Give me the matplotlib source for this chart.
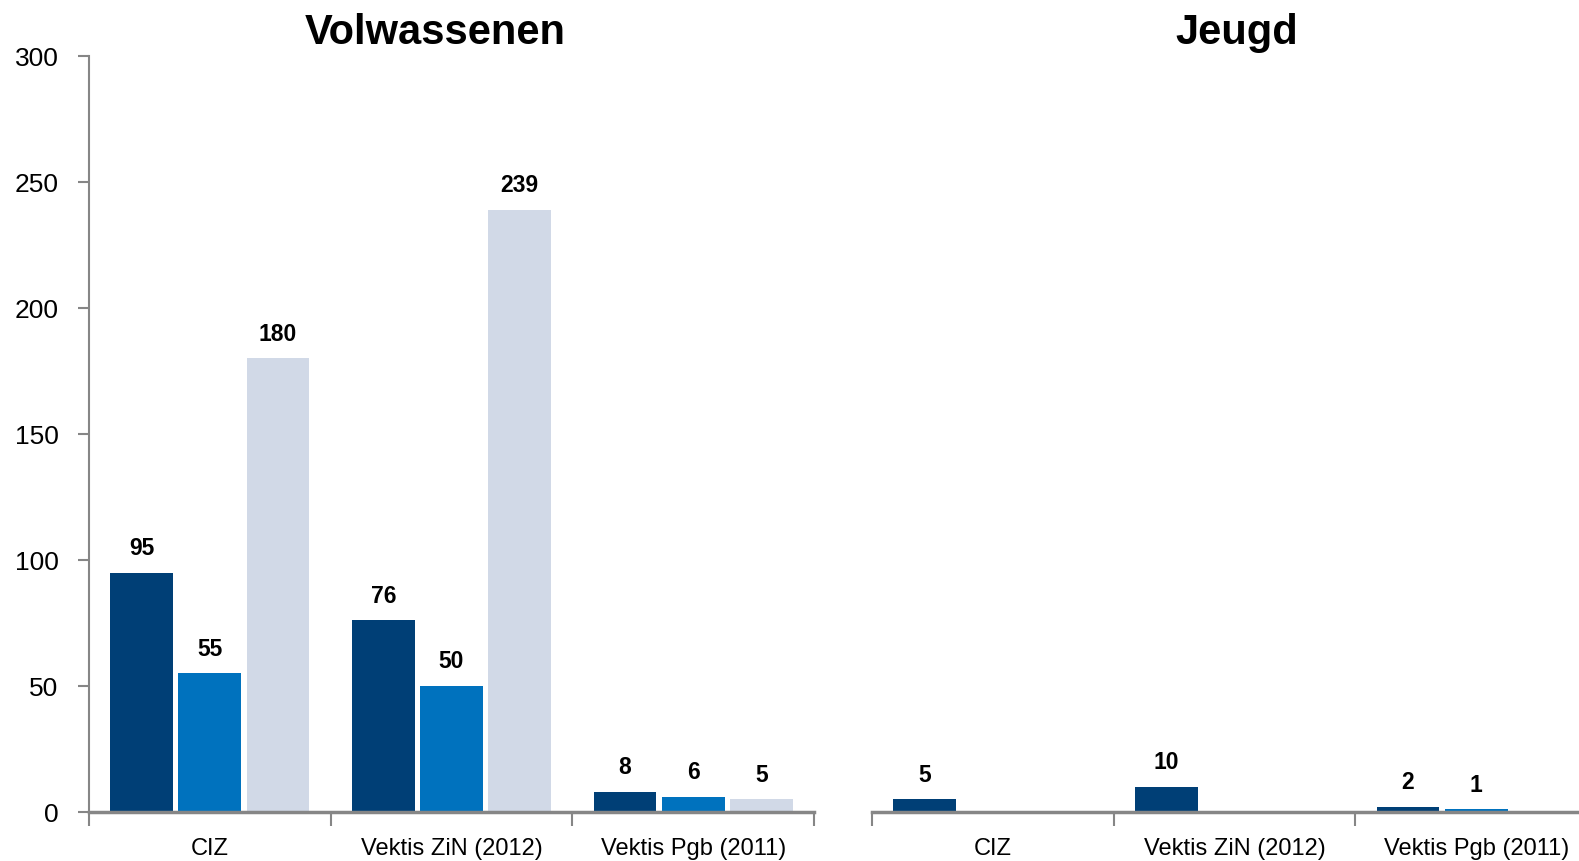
import matplotlib
matplotlib.use('Agg')
import matplotlib.pyplot as plt
import numpy as np

plt.rcParams.update({
    'font.family': ['Liberation Sans', 'DejaVu Sans'],
    'font.size': 17,
})

categories = ['CIZ', 'Vektis ZiN (2012)', 'Vektis Pgb (2011)']
volw_s1 = [95, 76, 8]
volw_s2 = [55, 50, 6]
volw_s3 = [180, 239, 5]
jeugd_s1 = [5, 10, 2]
jeugd_s2 = [0, 0, 1]
jeugd_s3 = [0, 0, 0]
yticks = [0, 50, 100, 150, 200, 250, 300]

COLORS = ['#003F76', '#0072BE', '#D1D9E7']
AXIS_GRAY = '#868686'

W, H = 1579, 862
fig = plt.figure(figsize=(W / 100, H / 100), dpi=100)

# positions in pixels of the full-size image
ax_l = fig.add_axes([89 / W, 49 / H, 725 / W, 756 / H])
ax_r = fig.add_axes([872 / W, 49 / H, 725 / W, 756 / H])

x = np.arange(len(categories))
offsets = [-0.282, 0.0, 0.282]
bw = 0.26


def draw_panel(ax, series, show_y):
    for i, vals in enumerate(series):
        bars = ax.bar(x + offsets[i], vals, width=bw, color=COLORS[i], zorder=2)
        for b, v in zip(bars, vals):
            if v == 0:
                continue
            ax.annotate(f'{v}', (b.get_x() + b.get_width() / 2, b.get_height()),
                        xytext=(0, 10), textcoords='offset points',
                        ha='center', va='bottom', fontsize=16.5, fontweight='bold')
    ax.set_xlim(-0.5, 2.5)
    ax.set_ylim(0, 300)
    for s in ['top', 'right']:
        ax.spines[s].set_visible(False)
    ax.spines['bottom'].set_color(AXIS_GRAY)
    ax.spines['bottom'].set_linewidth(2.5)
    ax.set_xticks([-0.5, 0.5, 1.5, 2.5])
    ax.set_xticklabels([])
    ax.set_xticks(x, minor=True)
    ax.set_xticklabels(categories, minor=True)
    ax.tick_params(axis='x', which='major', length=10, width=1.5, color=AXIS_GRAY, direction='out')
    ax.tick_params(axis='x', which='minor', length=0, pad=18, labelsize=17)
    if show_y:
        ax.spines['left'].set_color(AXIS_GRAY)
        ax.spines['left'].set_linewidth(1.5)
        ax.set_yticks(yticks)
        ax.tick_params(axis='y', length=8, width=1.5, color=AXIS_GRAY, pad=14, labelsize=19)
    else:
        ax.spines['left'].set_visible(False)
        ax.set_yticks([])


draw_panel(ax_l, [volw_s1, volw_s2, volw_s3], True)
draw_panel(ax_r, [jeugd_s1, jeugd_s2, jeugd_s3], False)

fig.text(435 / W, 1 - 33 / H, 'Volwassenen', ha='center', va='center',
         fontsize=30, fontweight='bold')
fig.text(1237 / W, 1 - 33 / H, 'Jeugd', ha='center', va='center',
         fontsize=30, fontweight='bold')

fig.savefig('out.png', dpi=100)
plt.close(fig)
